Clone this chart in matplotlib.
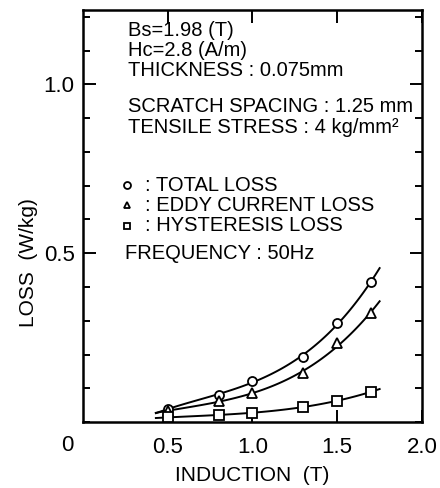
import numpy as np
import matplotlib
matplotlib.use("Agg")
import matplotlib.pyplot as plt
from matplotlib.ticker import MultipleLocator

plt.rcParams['font.family'] = ['Liberation Sans', 'DejaVu Sans']

# induction (T) and measured losses (W/kg) at 50 Hz
induction = [0.5, 0.8, 1.0, 1.3, 1.5, 1.7]
total_loss = [0.039, 0.080, 0.123, 0.194, 0.293, 0.416]
eddy_loss = [0.033, 0.062, 0.087, 0.144, 0.233, 0.324]
hyst_loss = [0.014, 0.021, 0.028, 0.045, 0.063, 0.090]

info_lines = ["Bs=1.98 (T)", "Hc=2.8 (A/m)", "THICKNESS : 0.075mm"]
scratch_lines = ["SCRATCH SPACING : 1.25 mm", "TENSILE STRESS : 4 kg/mm\u00b2"]
legend_labels = [": TOTAL LOSS", ": EDDY CURRENT LOSS", ": HYSTERESIS LOSS"]
legend_markers = ['o', '^', 's']
freq_label = "FREQUENCY : 50Hz"

fig = plt.figure(figsize=(4.4, 4.88), dpi=100)
ax = fig.add_axes([0.1886, 0.135, 0.7705, 0.8445])

# smooth fitted curves through each set of points
b_fit = np.linspace(0.43, 1.75, 100)
for loss, mk in zip([total_loss, eddy_loss, hyst_loss], legend_markers):
    coef = np.polyfit(induction, loss, 3)
    ax.plot(b_fit, np.polyval(coef, b_fit), color='k', lw=1.4, zorder=2)
    ax.plot(induction, loss, linestyle='none', marker=mk, ms=6.5,
            mfc='white', mec='k', mew=1.3, zorder=3)

ax.set_xlim(0, 2.0)
ax.set_ylim(0, 1.22)
ax.set_xticks([0.5, 1.0, 1.5, 2.0])
ax.set_xticklabels(['0.5', '1.0', '1.5', '2.0'])
ax.set_yticks([0.5, 1.0])
ax.set_yticklabels(['0.5', '1.0'])
ax.yaxis.set_minor_locator(MultipleLocator(0.1))
ax.tick_params(which='both', direction='in', top=True, right=True,
               width=1.4, labelsize=16)
ax.tick_params(which='major', length=9)
ax.tick_params(which='minor', length=5)
ax.tick_params(axis='x', pad=11)
ax.tick_params(axis='y', pad=6)
for sp in ax.spines.values():
    sp.set_linewidth(1.8)

# shared origin label
ax.text(-0.09, -0.068, '0', transform=ax.transData, ha='center', va='center',
        fontsize=16)

ax.set_xlabel('INDUCTION  (T)', fontsize=15, va='center')
ax.xaxis.set_label_coords(0.5, -0.129)
ax.set_ylabel('LOSS  (W/kg)', fontsize=15, va='center')
ax.yaxis.set_label_coords(-0.162, 0.388)

# annotation block
for i, s in enumerate(info_lines):
    ax.text(0.133, 0.951 - i * 0.049, s, transform=ax.transAxes,
            ha='left', va='center', fontsize=14.5)
for i, s in enumerate(scratch_lines):
    ax.text(0.133, 0.767 - i * 0.051, s, transform=ax.transAxes,
            ha='left', va='center', fontsize=14.5)
for i, (s, mk) in enumerate(zip(legend_labels, legend_markers)):
    y = 0.575 - i * 0.049
    ax.plot([0.130], [y], marker=mk, ms=5, mfc='white', mec='k', mew=1.3,
            transform=ax.transAxes, clip_on=False)
    ax.text(0.183, y, s, transform=ax.transAxes, ha='left', va='center',
            fontsize=14.5)
ax.text(0.124, 0.410, freq_label, transform=ax.transAxes,
        ha='left', va='center', fontsize=14.5)

fig.savefig('out.png', dpi=100)
